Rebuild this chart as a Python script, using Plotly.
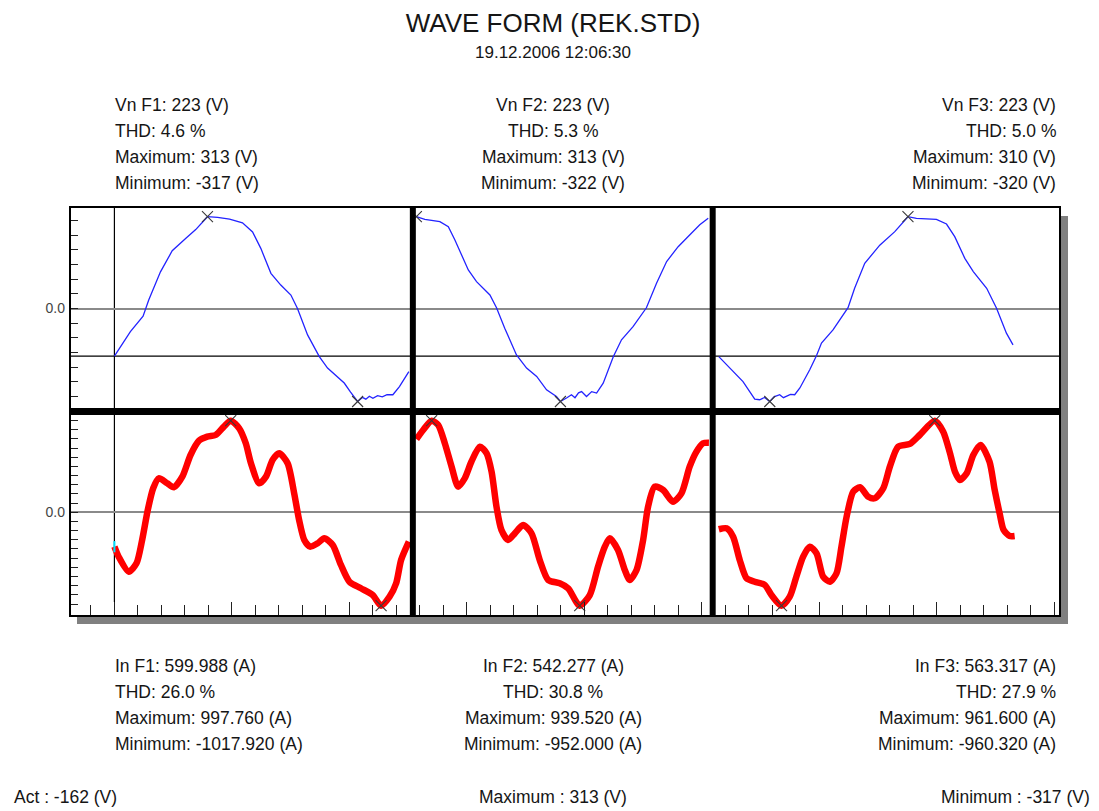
import plotly.graph_objects as go

# ---------------- phase summary values ----------------
PHASES = ["F1", "F2", "F3"]
VN = [223, 223, 223]
V_THD = [4.6, 5.3, 5.0]
V_MAX = [313, 313, 310]
V_MIN = [-317, -322, -320]
IN = [599.988, 542.277, 563.317]
I_THD = [26.0, 30.8, 27.9]
I_MAX = [997.760, 939.520, 961.600]
I_MIN = [-1017.920, -952.000, -960.320]
CURSOR_ACT = -162
CURSOR_MAX = 313
CURSOR_MIN = -317

# ---------------- voltage waveforms (sample index, volts) ----------------
v1_t = [0, 6.8, 12.2, 14.6, 19.6, 24.6, 30.3, 34.6, 39.6, 43.9, 49, 54.5, 58.8, 62.3, 66.6,
        70.8, 75.1, 77.9, 82.2, 87.2, 90.7, 94, 97.8, 100.5, 103.5, 105.5, 107, 108.5, 110,
        112, 114, 116, 118.5, 121.3, 125.3]
v1 = [-162, -79, -26, 29, 125, 197, 239, 269, 313, 311, 305, 292, 261, 205, 120,
      80, 46, 0, -90, -164, -203, -228, -254, -285, -317, -303, -309, -299, -306,
      -297, -301, -294, -294, -266, -215]

v2_t = [0, 3.6, 10, 13.6, 16.4, 19.3, 22.1, 25.6, 31.3, 34.1, 37.6, 42.6, 46.9, 51.2, 55.4,
        59.6, 61.3, 63.9, 66, 67.5, 69, 70.3, 72.4, 74.6, 76.7, 79.5, 83.8, 87.3, 92.2, 97.9,
        102.2, 106.5, 111.4, 116.3, 120.6, 124.2]
v2 = [313, 304, 296, 279, 233, 182, 130, 90, 44, 0, -70, -162, -207, -236, -282,
      -305, -322, -310, -299, -309, -292, -288, -305, -288, -293, -259, -168, -110, -65, 0,
      84, 159, 210, 250, 285, 308]

v3_t = [0, 6.1, 10.3, 15.3, 17.4, 19.5, 21.7, 23.5, 25.9, 27.5, 28.8, 30.5, 32.3, 34.5, 38.7,
        41.6, 43.7, 48.6, 55, 57.8, 62.1, 68.5, 74.9, 80.5, 84.1, 92.6, 96.9, 100.4, 104.7,
        108.3, 114, 118.2, 122.4, 125.2]
v3 = [-167, -218, -252, -312, -314, -306, -320, -304, -297, -307, -303, -296, -297, -274, -212,
      -163, -121, -76, 0, 66, 151, 213, 259, 310, 304, 301, 285, 242, 168,
      123, 66, -2, -87, -127]

# ---------------- current waveforms (sample index, amperes) ----------------
i1_t = [0, 1.8, 6.1, 9.4, 11.8, 14.2, 16.5, 18.9, 22.5, 25.3, 28.9, 32.4, 36, 39.5, 43.1,
        46.6, 49.5, 53.1, 55.9, 58.1, 61.6, 64.5, 67.3, 70.1, 73.7, 76.5, 78.6, 80.8, 83.3,
        86.5, 89.3, 92.9, 96.4, 100, 104.9, 109.9, 113.5, 117.1, 119.9, 122, 125.3]
i1 = [-375, -484, -647, -556, -302, 25, 262, 370, 316, 272, 388, 624, 780, 824, 842,
      933, 997.76, 915, 752, 534, 316, 388, 570, 643, 534, 207, -84, -302, -375,
      -338, -283, -356, -574, -756, -828, -901, -1017.92, -920, -774, -520, -320]

i2_t = [0, 2.9, 6.5, 9.3, 12.1, 15, 17.8, 20.6, 23.4, 27, 29.9, 32, 34.1, 36.2, 39,
        41.9, 45.4, 49, 52.5, 56.1, 61, 64.6, 69.5, 73.8, 77.3, 80.2, 82.3, 85.8, 88.7,
        90.8, 93.7, 96.5, 98.6, 101.4, 105, 109.2, 112.8, 116.3, 119.2, 122, 124.5]
i2 = [750, 845, 939.52, 896, 709, 469, 265, 351, 520, 674, 606, 418, 60, -178, -280,
      -212, -127, -212, -485, -689, -723, -774, -952.0, -843, -553, -349, -263, -382, -587,
      -689, -587, -280, 60, 265, 231, 111, 197, 469, 623, 709, 715]

i3_t = [0, 3.3, 6.1, 8.9, 11.8, 15.3, 19.6, 22.4, 26.7, 30.2, 33, 35.9, 38.7, 41.6, 44.4,
        47.3, 50.1, 52.2, 54.4, 57.2, 60.1, 63.6, 66.4, 70, 72.8, 76.3, 81.3, 85.5, 91.9,
        95.5, 98.4, 100.5, 102.6, 105.5, 108.3, 111.4, 115.2, 117.4, 119.5, 121.2, 123.8, 125.9]
i3 = [-166, -156, -243, -485, -675, -711, -745, -849, -960.32, -866, -659, -451, -347, -416, -659,
      -711, -623, -347, -35, 224, 270, 172, 156, 260, 484, 692, 720, 813, 961.6,
      848, 623, 432, 346, 416, 606, 710, 536, 242, 0, -173, -236, -236]

V_WAVES = [(v1_t, v1), (v2_t, v2), (v3_t, v3)]
I_WAVES = [(i1_t, i1), (i2_t, i2), (i3_t, i3)]

# ---------------- layout geometry ----------------
W, H = 1099, 811
PL, PR, PT, PB = 70, 1060, 207, 616          # plot area in pixels
PANEL_OFFSET = [0, 128.5, 257.2]             # start sample of each phase panel
DIVIDERS = [127.0, 254.6]                    # thick separators between panels
X_RANGE = [-18.9, 402.4]
SPLIT = 0.5                                   # voltage / current split of the plot height
FONT = "Liberation Sans, Arial, sans-serif"


def fx(px):
    return (px - PL) / (PR - PL)


def fy(py):
    return (PB - py) / (PB - PT)


def axis_range(lo, hi, top_px, bot_px, dom_px):
    k = (hi - lo) / (dom_px - top_px - bot_px)
    return [lo - bot_px * k, hi + top_px * k]


dom_px = (PB - PT) * 0.5
v_ranges = [axis_range(V_MIN[k], V_MAX[k], 9.7, 10.0, dom_px) for k in range(3)]
i_ranges = [axis_range(I_MIN[k], I_MAX[k], 9.2, 10.3, dom_px) for k in range(3)]

fig = go.Figure()

v_axes = ["y", "y2", "y3"]
i_axes = ["y4", "y5", "y6"]

# voltage traces
for k, (t, v) in enumerate(V_WAVES):
    xs = [ti + PANEL_OFFSET[k] for ti in t]
    fig.add_trace(go.Scatter(x=xs, y=v, mode="lines", yaxis=v_axes[k],
                             line=dict(color="#2323ff", width=1.3),
                             hoverinfo="skip", showlegend=False))

# current traces
for k, (t, c) in enumerate(I_WAVES):
    xs = [ti + PANEL_OFFSET[k] for ti in t]
    fig.add_trace(go.Scatter(x=xs, y=c, mode="lines", yaxis=i_axes[k],
                             line=dict(color="#ff0000", width=6.5, shape="spline", smoothing=0.7),
                             hoverinfo="skip", showlegend=False))

# cursor crossing on the first current trace
fig.add_trace(go.Scatter(x=[i1_t[0]], y=[i1[0]], mode="markers", yaxis="y4",
                         marker=dict(symbol="line-ns", size=8, line=dict(color="#00e0ff", width=2)),
                         hoverinfo="skip", showlegend=False))

# max / min crosses
for waves, axes in ((V_WAVES, v_axes), (I_WAVES, i_axes)):
    for k, (t, vals) in enumerate(waves):
        imax = max(range(len(vals)), key=lambda j: vals[j])
        imin = min(range(len(vals)), key=lambda j: vals[j])
        fig.add_trace(go.Scatter(
            x=[t[imax] + PANEL_OFFSET[k], t[imin] + PANEL_OFFSET[k]],
            y=[vals[imax], vals[imin]], mode="markers", yaxis=axes[k],
            marker=dict(symbol="x-thin", size=11, line=dict(color="#3a3a3a", width=1.1)),
            hoverinfo="skip", showlegend=False))

# ---------------- axes ----------------
v_ticks = list(range(-300, 301, 50))
i_ticks = list(range(-1000, 1001, 100))
tick_style = dict(ticks="inside", ticklen=8, tickcolor="#222", tickwidth=1,
                  showgrid=False, showline=False,
                  zeroline=True, zerolinecolor="#8a8a8a", zerolinewidth=1.5,
                  tickfont=dict(family=FONT, size=14, color="#444"),
                  ticklabelstandoff=4, fixedrange=True)

layout_axes = dict(
    xaxis=dict(range=X_RANGE, anchor="y4", ticks="inside", tick0=0, dtick=50, ticklen=14,
               tickcolor="#222", tickwidth=1, showticklabels=False, showgrid=False,
               zeroline=False, showline=False,
               minor=dict(tick0=0, dtick=10, ticks="inside", ticklen=11, tickcolor="#222",
                          tickwidth=1, showgrid=False)),
    yaxis=dict(domain=[SPLIT, 1], range=v_ranges[0], anchor="x", tickvals=v_ticks,
               ticktext=["0.0" if v == 0 else "" for v in v_ticks], **tick_style),
    yaxis2=dict(overlaying="y", range=v_ranges[1], visible=False, anchor="x"),
    yaxis3=dict(overlaying="y", range=v_ranges[2], visible=False, anchor="x"),
    yaxis4=dict(domain=[0, SPLIT], range=i_ranges[0], anchor="x", tickvals=i_ticks,
                ticktext=["0.0" if v == 0 else "" for v in i_ticks], **tick_style),
    yaxis5=dict(overlaying="y4", range=i_ranges[1], visible=False, anchor="x"),
    yaxis6=dict(overlaying="y4", range=i_ranges[2], visible=False, anchor="x"),
)

# ---------------- frame, shadow, dividers, cursor ----------------
shapes = [
    # drop shadow
    dict(type="rect", xref="paper", yref="paper", x0=fx(PR), x1=fx(PR + 8),
         y0=fy(PB + 8), y1=fy(PT + 9), fillcolor="#808080", line=dict(width=0), layer="below"),
    dict(type="rect", xref="paper", yref="paper", x0=fx(PL + 7), x1=fx(PR + 8),
         y0=fy(PB + 8), y1=fy(PB), fillcolor="#808080", line=dict(width=0), layer="below"),
    # cursor lines
    dict(type="line", xref="paper", yref="y", x0=0, x1=1, y0=CURSOR_ACT, y1=CURSOR_ACT,
         line=dict(color="#000", width=1.2), layer="below"),
    dict(type="line", xref="x", yref="paper", x0=0, x1=0, y0=fy(602), y1=1,
         line=dict(color="#000", width=1.2), layer="below"),
    # thick separators
    dict(type="line", xref="paper", yref="paper", x0=0, x1=1, y0=SPLIT, y1=SPLIT,
         line=dict(color="#000", width=7)),
]
for d in DIVIDERS:
    shapes.append(dict(type="line", xref="x", yref="paper", x0=d, x1=d, y0=0, y1=1,
                       line=dict(color="#000", width=6)))
shapes.append(dict(type="rect", xref="paper", yref="paper", x0=0, x1=1, y0=0, y1=1,
                   line=dict(color="#000", width=2)))

# ---------------- text ----------------
annotations = []


def label(text, px, py, anchor, size=17.5):
    annotations.append(dict(text=text, x=fx(px), y=fy(py), xref="paper", yref="paper",
                            xanchor=anchor, yanchor="middle", showarrow=False,
                            font=dict(family=FONT, size=size, color="#151515")))


annotations.append(dict(text="19.12.2006 12:06:30", x=fx(553), y=fy(53), xref="paper",
                        yref="paper", xanchor="center", yanchor="middle", showarrow=False,
                        font=dict(family=FONT, size=17, color="#151515")))

block_x = [(113, "left"), (553, "center"), (1058, "right")]
top_rows = [105, 131, 157, 183]
bot_rows = [666, 692, 718, 744]
for k, ph in enumerate(PHASES):
    px, anc = block_x[k]
    v_lines = [f"Vn {ph}: {VN[k]} (V)", f"THD: {V_THD[k]:.1f} %",
               f"Maximum: {V_MAX[k]} (V)", f"Minimum: {V_MIN[k]} (V)"]
    i_lines = [f"In {ph}: {IN[k]:.3f} (A)", f"THD: {I_THD[k]:.1f} %",
               f"Maximum: {I_MAX[k]:.3f} (A)", f"Minimum: {I_MIN[k]:.3f} (A)"]
    for txt, py in zip(v_lines, top_rows):
        label(txt, px, py, anc)
    for txt, py in zip(i_lines, bot_rows):
        label(txt, px, py, anc)

label(f"Act : {CURSOR_ACT} (V)", 12, 797, "left")
label(f"Maximum : {CURSOR_MAX} (V)", 553, 797, "center")
label(f"Minimum : {CURSOR_MIN} (V)", 1092, 797, "right")

fig.update_layout(
    width=W, height=H,
    margin=dict(l=PL, r=W - PR, t=PT, b=H - PB, pad=0),
    paper_bgcolor="white", plot_bgcolor="white",
    title=dict(text="WAVE FORM (REK.STD)", x=553 / W, xanchor="center",
               y=1 - 23 / H, yanchor="middle", yref="container",
               font=dict(family=FONT, size=26, color="#151515")),
    shapes=shapes, annotations=annotations, showlegend=False,
    **layout_axes,
)

fig.write_html("out.html")
